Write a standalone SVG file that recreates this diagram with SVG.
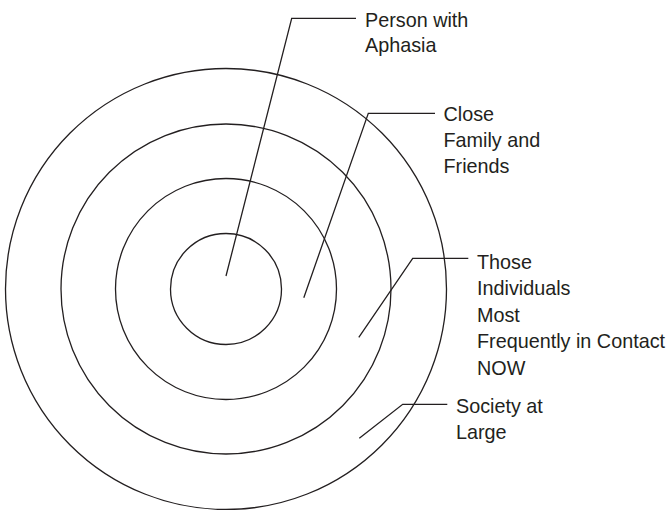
<svg xmlns="http://www.w3.org/2000/svg" width="669" height="510" viewBox="0 0 669 510">
<style>
.ring{fill:none;stroke:#231f20;stroke-width:1.3}
.lead{fill:none;stroke:#231f20;stroke-width:1.3;stroke-linejoin:miter}
.lbl{font-family:"Liberation Sans",Arial,sans-serif;font-size:19.8px;fill:#231f20}
</style>
<rect width="669" height="510" fill="#ffffff"/>
<g id="society"><circle class="ring" cx="226" cy="289" r="220.5"/></g>
<g id="frequent"><circle class="ring" cx="226" cy="289" r="165"/></g>
<g id="family"><circle class="ring" cx="226" cy="289" r="110.5"/></g>
<g id="person"><circle class="ring" cx="226" cy="289" r="55.5"/></g>
<g id="connectors">
<polyline class="lead" points="226,276 291.7,18.3 356,18.3"/>
<polyline class="lead" points="303.8,297.7 368.3,113.3 435,113.3"/>
<polyline class="lead" points="358.8,337.3 412.7,258.3 468.3,258.3"/>
<polyline class="lead" points="359.3,438.3 402.7,404.3 447.3,404.3"/>
</g>
<g id="label-person"><text class="lbl" x="365" y="26.5">Person with</text><text class="lbl" x="365" y="52">Aphasia</text></g>
<g id="label-family"><text class="lbl" x="443.5" y="120.7">Close</text><text class="lbl" x="443.5" y="147">Family and</text><text class="lbl" x="443.5" y="173.3">Friends</text></g>
<g id="label-frequent"><text class="lbl" x="477" y="268.7">Those</text><text class="lbl" x="477" y="295">Individuals</text><text class="lbl" x="477" y="321.5">Most</text><text class="lbl" x="477" y="348">Frequently in Contact</text><text class="lbl" x="477" y="374.5">NOW</text></g>
<g id="label-society"><text class="lbl" x="456" y="413">Society at</text><text class="lbl" x="456" y="439.3">Large</text></g>
</svg>
